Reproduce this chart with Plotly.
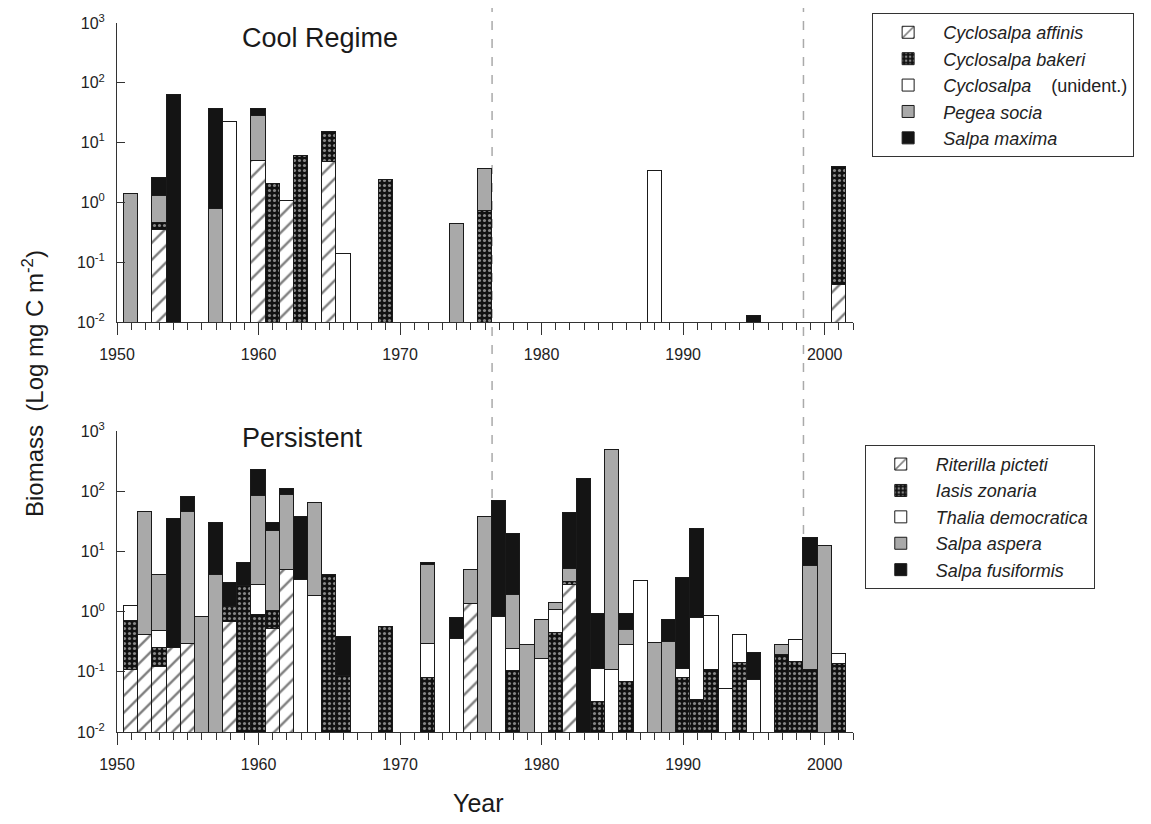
import plotly.graph_objects as go

# ---------------- data: top panel (Cool Regime) ----------------
years_top = [1951, 1953, 1954, 1957, 1958, 1960, 1961, 1962, 1963, 1965, 1966,
             1969, 1974, 1976, 1988, 1995, 2001]
c_affinis = [None, 0.34, None, None, None, 4.86, None, 1.04, None, 4.74, None,
             None, None, None, None, None, 0.042]
c_bakeri = [None, 0.11, None, None, None, None, 2.0, None, 6.0, 10.3, None,
            2.34, None, 0.72, None, None, 3.87]
c_unident = [None, None, None, None, 22.4, None, None, None, None, None, 0.139,
             None, None, None, 3.35, None, None]
p_socia = [1.38, 0.85, None, 0.78, None, 22.7, None, None, None, None, None,
           None, 0.435, 2.95, None, None, None]
s_maxima = [None, 1.26, 63.0, 35.7, None, 9.0, None, None, None, None, None,
            None, None, None, None, 0.0128, None]

# ---------------- data: bottom panel (Persistent) ----------------
years_bot = [1951, 1952, 1953, 1954, 1955, 1956, 1957, 1958, 1959, 1960, 1961,
             1962, 1963, 1964, 1965, 1966, 1969, 1972, 1974, 1975, 1976, 1977,
             1978, 1979, 1980, 1981, 1982, 1983, 1984, 1985, 1986, 1987, 1988,
             1989, 1990, 1991, 1992, 1993, 1994, 1995, 1997, 1998, 1999, 2000,
             2001]
r_picteti = [0.109, 0.405, 0.120, 0.249, 0.294, None, None, 0.674, None, None, 0.523,
             4.88, None, None, None, None, None, None, None, 1.36, None, None,
             None, None, None, None, 2.75, None, None, None, None, None, None,
             None, None, None, None, None, None, None, None, None, None, None,
             None]
i_zonaria = [0.583, None, 0.129, None, None, None, None, 0.526, 2.64, 0.871, 0.493,
             None, None, None, 4.03, 0.0843, 0.557, 0.079, None, None, None, None,
             0.103, None, None, 0.443, 0.37, None, 0.031, None, 0.068, None, None,
             None, 0.080, 0.0345, 0.106, None, 0.142, None, 0.188, 0.146, 0.106, None,
             0.137]
t_democratica = [0.538, None, 0.223, None, None, None, None, None, None, 1.88, None,
                 None, 3.33, 1.80, None, None, None, 0.208, 0.356, None, None, 0.818,
                 0.134, None, 0.160, 0.611, None, None, 0.082, 0.106, 0.208, 3.2, None,
                 None, 0.033, 0.7525, 0.743, 0.0526, 0.263, 0.0723, None, 0.188, None, None,
                 0.064]
s_aspera = [None, 44.0, 3.51, None, 44.1, 0.818, 4.03, None, None, 80.25, 20.7,
            81.3, None, 62.5, None, None, None, 5.62, None, 3.46, 37.6, None,
            1.64, 0.276, 0.578, 0.36, 1.89, None, None, 483.0, 0.227, None, 0.302,
            0.314, None, None, None, None, None, None, 0.095, None, 5.65, 12.2,
            None]
s_fusiformis = [None, None, None, 34.65, 35.5, None, 25.9, 1.73, 3.66, 141.6, 8.2,
                21.0, 33.4, None, None, 0.287, None, 0.55, 0.431, None, None, 68.6,
                17.5, None, None, None, 37.7, 157.0, 0.816, None, 0.426, None, None,
                0.424, 3.44, 22.6, None, None, None, 0.129, None, None, 10.65, None,
                None]

names_top = ["<i>Cyclosalpa affinis</i>", "<i>Cyclosalpa bakeri</i>",
             "<i>Cyclosalpa</i>    (unident.)", "<i>Pegea socia</i>", "<i>Salpa maxima</i>"]
names_bot = ["<i>Riterilla picteti</i>", "<i>Iasis zonaria</i>",
             "<i>Thalia democratica</i>", "<i>Salpa aspera</i>", "<i>Salpa fusiformis</i>"]
regime_shifts = [1976.5, 1998.5]
y_ticks = [0.01, 0.1, 1, 10, 100, 1000]
y_ticktext = ["10<sup>-2</sup>", "10<sup>-1</sup>", "10<sup>0</sup>",
              "10<sup>1</sup>", "10<sup>2</sup>", "10<sup>3</sup>"]
x_ticks = [1950, 1960, 1970, 1980, 1990, 2000]

# ---------------- styles ----------------
FONT = "Liberation Sans, Arial, sans-serif"
OUT = "#1a1a1a"
styles = [
    dict(color="white", pattern=dict(shape="/", bgcolor="white", fgcolor="#000",
                                     size=12, solidity=0.2)),
    dict(color="#111", pattern=dict(shape=".", bgcolor="#111", fgcolor="white",
                                    size=5, solidity=0.3)),
    dict(color="white"),
    dict(color="#a9a9a9"),
    dict(color="#141414"),
]

fig = go.Figure()

top_series = [c_affinis, c_bakeri, c_unident, p_socia, s_maxima]
for name, vals, st in zip(names_top, top_series, styles):
    fig.add_trace(go.Bar(
        x=years_top, y=vals, name=name, width=1.0,
        marker=dict(**st, line=dict(color=OUT, width=1)),
        xaxis="x", yaxis="y", legend="legend"))

bot_series = [r_picteti, i_zonaria, t_democratica, s_aspera, s_fusiformis]
for name, vals, st in zip(names_bot, bot_series, styles):
    fig.add_trace(go.Bar(
        x=years_bot, y=vals, name=name, width=1.0,
        marker=dict(**st, line=dict(color=OUT, width=1)),
        xaxis="x2", yaxis="y2", legend="legend2"))

xax = dict(range=[1950, 2002], tickvals=x_ticks, ticks="outside", ticklen=12,
           tickwidth=1, tickcolor="#333", showline=True, linecolor="#333",
           linewidth=1, showgrid=False, zeroline=False,
           tickfont=dict(size=16, color="#222", family=FONT),
           ticklabelstandoff=6,
           minor=dict(dtick=1, ticks="outside", ticklen=7, tickcolor="#333",
                      showgrid=False))
yax = dict(type="log", range=[-2, 3], tickvals=y_ticks, ticktext=y_ticktext,
           ticks="inside", ticklen=8, tickcolor="#333", showline=True,
           linecolor="#333", linewidth=1, showgrid=False, zeroline=False,
           tickfont=dict(size=16, color="#222", family=FONT),
           ticklabelstandoff=8)

legend_common = dict(xanchor="left", yanchor="top", bordercolor="#333", borderwidth=1,
                     bgcolor="white", traceorder="normal", itemwidth=60,
                     font=dict(size=18, family=FONT, color="#222"))

fig.update_layout(
    width=1151, height=824,
    margin=dict(l=117, r=298, t=23, b=92),
    paper_bgcolor="white", plot_bgcolor="white",
    barmode="stack", bargap=0,
    font=dict(family=FONT, color="#1a1a1a"),
    xaxis=dict(**xax, domain=[0, 1], anchor="y"),
    yaxis=dict(**yax, domain=[0.5783, 1.0], anchor="x"),
    xaxis2=dict(**xax, domain=[0, 1], anchor="y2"),
    yaxis2=dict(**yax, domain=[0.0, 0.4245], anchor="x2"),
    legend=dict(x=1.026, y=1.014, **legend_common),
    legend2=dict(x=1.016, y=0.405, **legend_common),
    showlegend=True,
)

for xs in regime_shifts:
    fig.add_shape(type="line", xref="x", yref="paper", x0=xs, x1=xs, y0=0, y1=1.021,
                  line=dict(color="#aaaaaa", width=1.5, dash="dash"), layer="below")

ann = dict(xref="paper", yref="paper", showarrow=False, xanchor="center", yanchor="middle")
fig.add_annotation(text="Cool Regime", x=0.2758, y=0.9788,
                   font=dict(size=27, family=FONT, color="#1a1a1a"), **ann)
fig.add_annotation(text="Persistent", x=0.2527, y=0.4147,
                   font=dict(size=27, family=FONT, color="#1a1a1a"), **ann)
fig.add_annotation(text="Year", x=0.4905, y=-0.1001,
                   font=dict(size=25, family=FONT, color="#1a1a1a"), **ann)
fig.add_annotation(text="Biomass  (Log mg C m<sup>-2</sup>)", x=-0.1141, y=0.4908,
                   textangle=-90, font=dict(size=24, family=FONT, color="#1a1a1a"), **ann)

fig.write_html("out.html", config={"displayModeBar": False},
               post_script="document.body.style.margin='0';")
